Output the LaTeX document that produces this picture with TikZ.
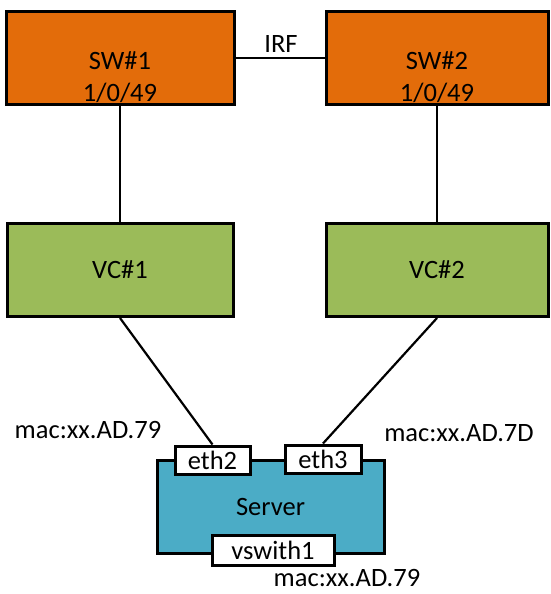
\documentclass[tikz,border=0pt]{standalone}
\usepackage{fontspec}
\setmainfont{Carlito}
\usetikzlibrary{positioning}

\definecolor{sworange}{HTML}{E36C0A}
\definecolor{vcgreen}{HTML}{9BBB59}
\definecolor{srvblue}{HTML}{4BACC6}

\begin{document}
\begin{tikzpicture}[
        x=1pt, y=-1pt,
        font=\fontsize{26.5}{32}\selectfont,
        switch/.style={rectangle, draw, line width=3pt, fill=sworange, minimum width=228pt, minimum height=92pt, inner sep=0pt},
        vc/.style={rectangle, draw, line width=3pt, fill=vcgreen, minimum width=226pt, minimum height=93pt, inner sep=0pt},
        server/.style={rectangle, draw, line width=3pt, fill=srvblue, minimum width=227pt, minimum height=93pt, inner sep=0pt},
        port/.style={rectangle, draw, line width=3pt, fill=white, minimum height=28pt, inner sep=0pt},
        mac/.style={inner sep=0pt},
        link/.style={line width=2.2pt}
      ]
        \useasboundingbox (0,0) rectangle (550,594);

        % Switches
        \node[switch, label={[yshift=-19pt, align=center]center:SW\#1\\1/0/49}] (sw1) at (120,58) {};
        \node[switch, minimum width=222pt, label={[yshift=-19pt, align=center]center:SW\#2\\1/0/49}] (sw2) at (437,58) {};
        \node[mac] (irf) at (281,44) {IRF};

        % Virtual connect
        \node[vc] (vc1) at (120,270) {VC\#1};
        \node[vc, minimum width=222pt] (vc2) at (437,270) {VC\#2};

        % Server with ports
        \node[server] (srv) at (270.5,506.5) {Server};
        \node[port, minimum width=75pt] (eth2) at (212.5,460) {eth2};
        \node[port, minimum width=76pt] (eth3) at (323,459) {eth3};
        \node[port, minimum width=122pt, minimum height=30pt] (vsw) at (273,550) {vswith1};

        % MAC labels
        \node[mac] (mac2) at (88,430) {mac:xx.AD.79};
        \node[mac] (mac3) at (459,433) {mac:xx.AD.7D};
        \node[mac] (macv) at (347,578) {mac:xx.AD.79};

        % Links
        \draw[link] (sw1.east) -- (sw2.west);
        \draw[link] (sw1.south) -- (vc1.north);
        \draw[link] (sw2.south) -- (vc2.north);
        \draw[link] (vc1.south) -- (eth2.north);
        \draw[link] (vc2.south) -- (eth3.north);
      \end{tikzpicture}
\end{document}
